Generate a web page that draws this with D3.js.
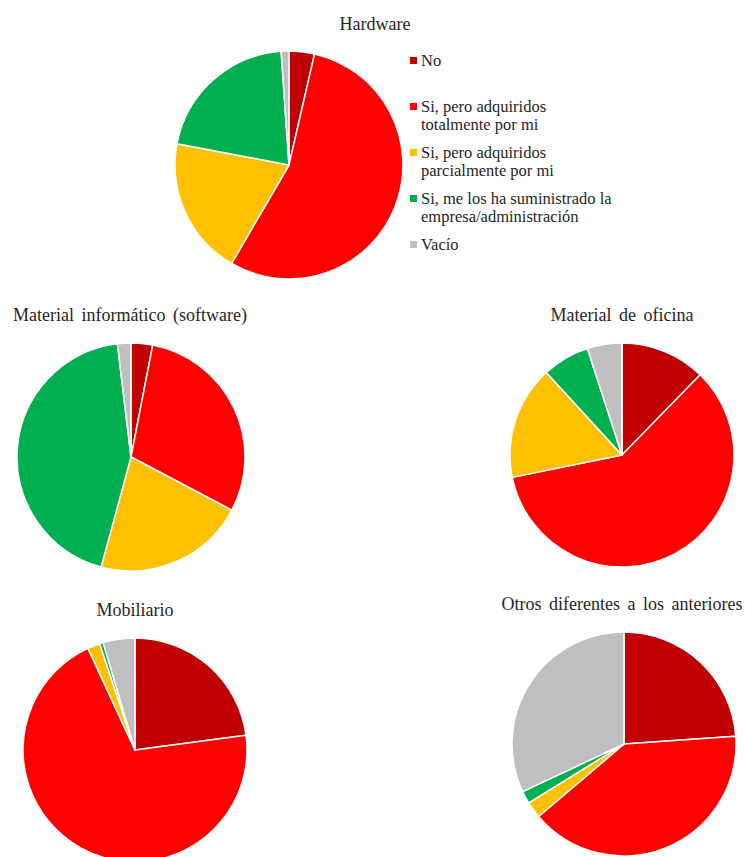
<!DOCTYPE html>
<html><head><meta charset="utf-8">
<script src="https://cdn.jsdelivr.net/npm/d3@7"></script>
<style>
html,body{margin:0;padding:0;background:#fff;}
svg{display:block;}
text, tspan{font-family:"Liberation Serif","Times New Roman",serif;fill:#262626;}
</style></head>
<body>
<svg id="c" width="745" height="857"></svg>
<script>
// ---- data ----
const categories = ["No", "Si, pero adquiridos totalmente por mi", "Si, pero adquiridos parcialmente por mi", "Si, me los ha suministrado la empresa/administración", "Vacío"];
const legendLines = [["No"], ["Si, pero adquiridos", "totalmente por mi"], ["Si, pero adquiridos", "parcialmente por mi"], ["Si, me los ha suministrado la", "empresa/administración"], ["Vacío"]];
const chartTitles = ["Hardware", "Material informático (software)", "Material de oficina", "Mobiliario", "Otros diferentes a los anteriores"];
const hardware   = [3.6, 54.8, 19.6, 20.9, 1.1];
const software   = [3.05, 29.7, 21.5, 43.9, 1.9];
const oficina    = [12.3, 59.5, 16.4, 6.8, 5.0];
const mobiliario = [22.9, 70.2, 1.8, 0.5, 4.6];
const otros      = [23.9, 39.9, 2.4, 1.8, 32.0];
const colors = ["#C00000", "#FF0000", "#FFC000", "#00B050", "#BFBFBF"];

// ---- layout ----
const seriesList = [hardware, software, oficina, mobiliario, otros];
const layout = [
  {cx: 289, cy: 165, r: 114, tx: 375, ty: 30},
  {cx: 131, cy: 457, r: 114, tx: 130, ty: 321},
  {cx: 622, cy: 455, r: 112, tx: 622, ty: 321},
  {cx: 135, cy: 750, r: 112, tx: 135, ty: 616},
  {cx: 624, cy: 744, r: 112, tx: 622, ty: 610}
];
const FONT = "'Liberation Serif','Times New Roman',serif";

const svg = d3.select("#c");
const color = d3.scaleOrdinal().domain(categories).range(colors);
const pie = d3.pie().sort(null).value(d => d.v);

seriesList.forEach((vals, i) => {
  const L = layout[i];
  const g = svg.append("g").attr("transform", `translate(${L.cx},${L.cy})`);
  const arc = d3.arc().innerRadius(0).outerRadius(L.r);
  g.selectAll("path")
    .data(pie(vals.map((v, k) => ({v, c: categories[k]}))))
    .join("path")
    .attr("d", arc)
    .attr("fill", d => color(d.data.c))
    .attr("stroke", "#fff")
    .attr("stroke-width", 1.5)
    .attr("stroke-linejoin", "round");
  svg.append("text")
    .attr("x", L.tx).attr("y", L.ty)
    .attr("text-anchor", "middle")
    .attr("font-family", FONT)
    .attr("font-size", 18)
    .attr("word-spacing", "3px")
    .text(chartTitles[i]);
});

// ---- legend ----
const legY = [66, 112, 158, 204, 250];
const leg = svg.append("g");
categories.forEach((c, k) => {
  leg.append("rect")
    .attr("x", 410).attr("y", legY[k] - 9)
    .attr("width", 7).attr("height", 7)
    .attr("fill", color(c));
  const t = leg.append("text")
    .attr("x", 421).attr("y", legY[k])
    .attr("font-family", FONT)
    .attr("font-size", 16.5);
  legendLines[k].forEach((ln, j) => {
    t.append("tspan").attr("x", 421).attr("dy", j === 0 ? 0 : 18)
      .attr("font-family", FONT).text(ln);
  });
});
</script>
</body></html>
